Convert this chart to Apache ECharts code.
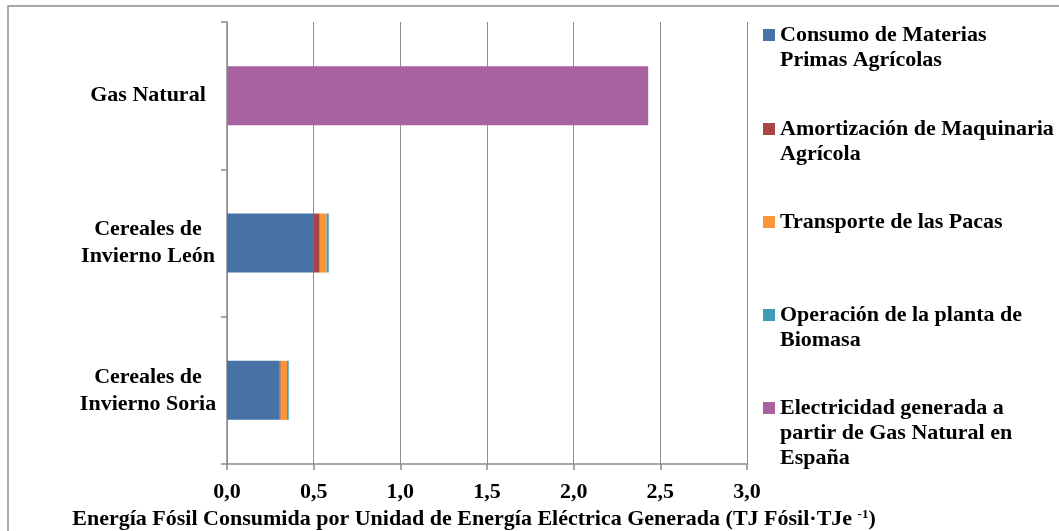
<!DOCTYPE html>
<html>
<head>
<meta charset="utf-8">
<script src="https://cdn.jsdelivr.net/npm/echarts@6/dist/echarts.min.js"></script>
<style>html,body{margin:0;padding:0;background:#fff}#c{width:1059px;height:531px}</style>
</head>
<body>
<div id="c"></div>
<script>
const categories = ['Cereales de\nInvierno Soria', 'Cereales de\nInvierno León', 'Gas Natural'];
const seriesNames = [
  'Consumo de Materias Primas Agrícolas',
  'Amortización de Maquinaria Agrícola',
  'Transporte de las Pacas',
  'Operación de la planta de Biomasa',
  'Electricidad generada a partir de Gas Natural en España'
];
const legendLabels = [
  'Consumo de Materias\nPrimas Agrícolas',
  'Amortización de Maquinaria\nAgrícola',
  'Transporte de las Pacas',
  'Operación de la planta de\nBiomasa',
  'Electricidad generada a\npartir de Gas Natural en\nEspaña'
];
const consumo = [0.302, 0.498, 0];
const amortizacion = [0.008, 0.037, 0];
const transporte = [0.036, 0.040, 0];
const operacion = [0.010, 0.012, 0];
const electricidad = [0, 0, 2.43];
const xTicks = [0, 0.5, 1.0, 1.5, 2.0, 2.5, 3.0];

const colors = ['#4672A6', '#A94643', '#F9963A', '#3E9DB5', '#A962A0'];
const values = [consumo, amortizacion, transporte, operacion, electricidad];
const font = 'Liberation Serif';

const iconTops = [29, 123, 216, 309, 402];
const legends = seriesNames.map((n, i) => {
  const lines = legendLabels[i].split('\n').length;
  const blockTop = 6 - (2 * lines - 1) * 12.5;
  return {
    data: [n], orient: 'vertical', left: 763, top: iconTops[i] + blockTop, padding: 0,
    itemWidth: 12, itemHeight: 12, icon: 'rect', selectedMode: false,
    formatter: () => ' \n'.repeat(lines - 1) + legendLabels[i],
    textStyle: { fontFamily: font, fontWeight: 'bold', fontSize: 22, color: '#000', lineHeight: 25 }
  };
});

const chart = echarts.init(document.getElementById('c'));
chart.setOption({
  animation: false,
  color: colors,
  graphic: [{ type: 'rect', shape: { x: 8, y: 6, width: 1100, height: 600 }, style: { fill: 'none', stroke: '#8c8c8c', lineWidth: 1.5 }, silent: true, z: -1 }],
  grid: { left: 227, right: 312, top: 22, bottom: 67, containLabel: false, outerBoundsMode: 'none' },
  legend: legends,
  xAxis: {
    type: 'value', min: 0, max: 3, interval: 0.5,
    axisLine: { show: true, lineStyle: { color: '#8c8c8c', width: 1.5 } },
    axisTick: { show: true, length: 6, lineStyle: { color: '#8c8c8c', width: 1.5 } },
    splitLine: { show: true, lineStyle: { color: '#8c8c8c', width: 1 } },
    axisLabel: { margin: 17, fontFamily: font, fontWeight: 'bold', fontSize: 22, color: '#000',
      formatter: v => { const t = xTicks.find(x => Math.abs(x - v) < 1e-9); return (t === undefined ? v : t).toFixed(1).replace('.', ','); } },
    name: 'Energía Fósil Consumida por Unidad de Energía Eléctrica Generada (TJ Fósil·TJe {sup|-1})',
    nameLocation: 'middle', nameGap: 43,
    nameTextStyle: { fontFamily: font, fontWeight: 'bold', fontSize: 22, color: '#000', padding: [0, 26, 0, 0],
      rich: { sup: { fontFamily: font, fontWeight: 'bold', fontSize: 13, color: '#000', verticalAlign: 'top', padding: [0, 0, 9, 0] } } }
  },
  yAxis: {
    type: 'category', data: categories,
    axisLine: { show: true, lineStyle: { color: '#8c8c8c', width: 1.5 } },
    axisTick: { show: true, length: 6, alignWithLabel: false, lineStyle: { color: '#8c8c8c', width: 1.5 } },
    axisLabel: { margin: 79, align: 'center', fontFamily: font, fontWeight: 'bold', fontSize: 22, lineHeight: 27, color: '#000' }
  },
  series: seriesNames.map((n, i) => ({
    name: n, type: 'bar', stack: 'total', barWidth: 59,
    data: values[i], itemStyle: { color: colors[i] }
  }))
});
</script>
</body>
</html>
